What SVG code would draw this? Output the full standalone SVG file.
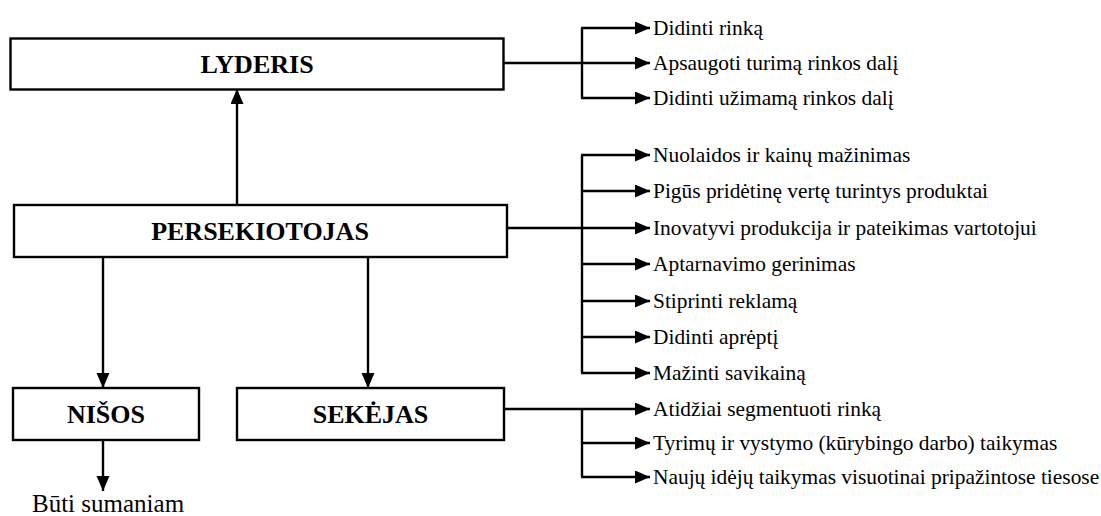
<svg xmlns="http://www.w3.org/2000/svg" width="1101" height="516" viewBox="0 0 1101 516">
  <style>
    text { font-family: "Liberation Serif", "Times New Roman", Times, serif; fill: #000000; }
    .box { fill: #ffffff; stroke: #000000; stroke-width: 2.4; }
    .title { font-weight: bold; font-size: 26px; text-anchor: middle; }
    .item { font-size: 21.4px; }
    .note { font-size: 25px; }
    .wire { fill: none; stroke: #000000; stroke-width: 2.4; }
    .arrow { fill: none; stroke: #000000; stroke-width: 2.4; marker-end: url(#head); }
  </style>
  <defs>
    <marker id="head" markerUnits="userSpaceOnUse" markerWidth="16" markerHeight="14" refX="15" refY="6.5" orient="auto">
      <path d="M0,0 L15,6.5 L0,13 Z" fill="#000000"/>
    </marker>
  </defs>

  <rect width="1101" height="516" fill="#ffffff"/>

  <!-- connectors -->
  <g id="connectors">
    <!-- between the main boxes -->
    <path class="arrow" d="M237,205 V89"/>
    <path class="arrow" d="M103,257 V388"/>
    <path class="arrow" d="M368,257 V388"/>
    <path class="arrow" d="M103,440 V491"/>

    <!-- LYDERIS branch -->
    <path class="wire" d="M503,63 H582"/>
    <path class="wire" d="M582,28 V98"/>
    <path class="arrow" d="M581,28 H650"/>
    <path class="arrow" d="M582,63 H650"/>
    <path class="arrow" d="M581,98 H650"/>

    <!-- PERSEKIOTOJAS branch -->
    <path class="wire" d="M507,228 H582"/>
    <path class="wire" d="M582,155 V373"/>
    <path class="arrow" d="M581,155 H650"/>
    <path class="arrow" d="M582,191 H650"/>
    <path class="arrow" d="M582,228 H650"/>
    <path class="arrow" d="M582,264 H650"/>
    <path class="arrow" d="M582,301 H650"/>
    <path class="arrow" d="M582,337 H650"/>
    <path class="arrow" d="M581,373 H650"/>

    <!-- SEKĖJAS branch -->
    <path class="wire" d="M504,409 H582"/>
    <path class="wire" d="M582,409 V477"/>
    <path class="arrow" d="M582,409 H650"/>
    <path class="arrow" d="M582,443 H650"/>
    <path class="arrow" d="M581,477 H650"/>
  </g>

  <g id="lyderis">
    <rect class="box" x="10.5" y="38.5" width="493" height="51"/>
    <text class="title" x="257" y="73">LYDERIS</text>
  </g>

  <g id="persekiotojas">
    <rect class="box" x="14" y="205" width="493" height="52"/>
    <text class="title" x="260" y="240">PERSEKIOTOJAS</text>
  </g>

  <g id="nisos">
    <rect class="box" x="13" y="388" width="186" height="52"/>
    <text class="title" x="106" y="423">NIŠOS</text>
  </g>

  <g id="sekejas">
    <rect class="box" x="237" y="388" width="267" height="52"/>
    <text class="title" x="370.5" y="423">SEKĖJAS</text>
  </g>

  <g id="nisos-goal">
    <text class="note" x="32" y="512">Būti sumaniam</text>
  </g>

  <g id="lyderis-items">
    <text class="item" x="653" y="35">Didinti rinką</text>
    <text class="item" x="653" y="70">Apsaugoti turimą rinkos dalį</text>
    <text class="item" x="653" y="105">Didinti užimamą rinkos dalį</text>
  </g>

  <g id="persekiotojas-items">
    <text class="item" x="653" y="162">Nuolaidos ir kainų mažinimas</text>
    <text class="item" x="653" y="198">Pigūs pridėtinę vertę turintys produktai</text>
    <text class="item" x="653" y="235">Inovatyvi produkcija ir pateikimas vartotojui</text>
    <text class="item" x="653" y="271">Aptarnavimo gerinimas</text>
    <text class="item" x="653" y="308">Stiprinti reklamą</text>
    <text class="item" x="653" y="344">Didinti aprėptį</text>
    <text class="item" x="653" y="380">Mažinti savikainą</text>
  </g>

  <g id="sekejas-items">
    <text class="item" x="653" y="416">Atidžiai segmentuoti rinką</text>
    <text class="item" x="653" y="450">Tyrimų ir vystymo (kūrybingo darbo) taikymas</text>
    <text class="item" x="653" y="484">Naujų idėjų taikymas visuotinai pripažintose tiesose</text>
  </g>
</svg>
